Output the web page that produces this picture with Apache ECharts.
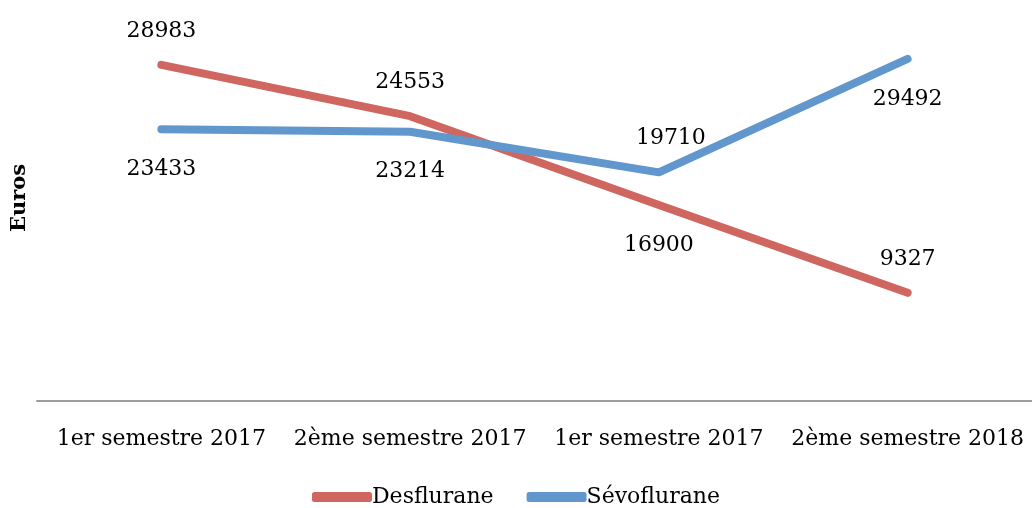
<!DOCTYPE html>
<html>
<head>
<meta charset="utf-8">
<script src="https://cdn.jsdelivr.net/npm/echarts@6/dist/echarts.min.js"></script>
<style>
  html, body { margin: 0; padding: 0; background: #fff; }
  #chart { width: 1032px; height: 508px; }
</style>
</head>
<body>
<div id="chart"></div>
<script>
// semesters and costs in euros
const categories = ["1er semestre 2017", "2ème semestre 2017", "1er semestre 2017", "2ème semestre 2018"];
const desflurane = [28983, 24553, 16900, 9327];
const sevoflurane = [23433, 23214, 19710, 29492];
// where each value label sits relative to its point
const desfluraneLabelPos = ["top", "top", "bottom", "top"];
const sevofluraneLabelPos = ["bottom", "bottom", "top", "bottom"];

const RED = "#CF665F";
const BLUE = "#6197CC";
const FONT = "DejaVu Serif";

function withLabels(values, positions) {
  return values.map((v, i) => {
    const pos = positions[i];
    const label = { position: pos, distance: pos === "top" ? 23 : 29 };
    if (i === 2 && pos === "top") label.offset = [12, 0];
    return { value: v, label };
  });
}

const chart = echarts.init(document.getElementById("chart"), null, { renderer: "canvas" });

const valueLabel = { show: true, color: "#000", fontFamily: FONT, fontSize: 22 };

chart.setOption({
  animation: false,
  backgroundColor: "#fff",
  textStyle: { fontFamily: FONT },
  grid: { left: 37, width: 1000, top: 53, bottom: 107 },
  legend: {
    bottom: -5,
    left: "center",
    itemWidth: 60,
    itemHeight: 10,
    itemGap: 33,
    icon: "roundRect",
    textStyle: { fontFamily: FONT, fontSize: 22, color: "#000", padding: [0, 0, 0, -5] },
    data: ["Desflurane", "Sévoflurane"],
  },
  xAxis: {
    type: "category",
    data: categories,
    boundaryGap: true,
    axisLine: { lineStyle: { color: "#9c9c9c", width: 2 } },
    axisTick: { show: false },
    axisLabel: { color: "#000", fontFamily: FONT, fontSize: 22, margin: 27, interval: 0 },
  },
  yAxis: {
    type: "value",
    min: 0,
    max: 30000,
    show: false,
  },
  graphic: [
    {
      type: "text",
      x: 20,
      y: 198,
      rotation: Math.PI / 2,
      style: {
        text: "Euros",
        font: "bold 21px " + FONT,
        fill: "#000",
        textAlign: "center",
        textVerticalAlign: "middle",
      },
    },
  ],
  series: [
    {
      name: "Desflurane",
      type: "line",
      data: withLabels(desflurane, desfluraneLabelPos),
      color: RED,
      symbol: "circle",
      symbolSize: 0,
      showSymbol: true,
      lineStyle: { width: 8, color: RED, cap: "round", join: "round" },
      label: valueLabel,
    },
    {
      name: "Sévoflurane",
      type: "line",
      data: withLabels(sevoflurane, sevofluraneLabelPos),
      color: BLUE,
      symbol: "circle",
      symbolSize: 0,
      showSymbol: true,
      lineStyle: { width: 8, color: BLUE, cap: "round", join: "round" },
      label: valueLabel,
    },
  ],
});
</script>
</body>
</html>
